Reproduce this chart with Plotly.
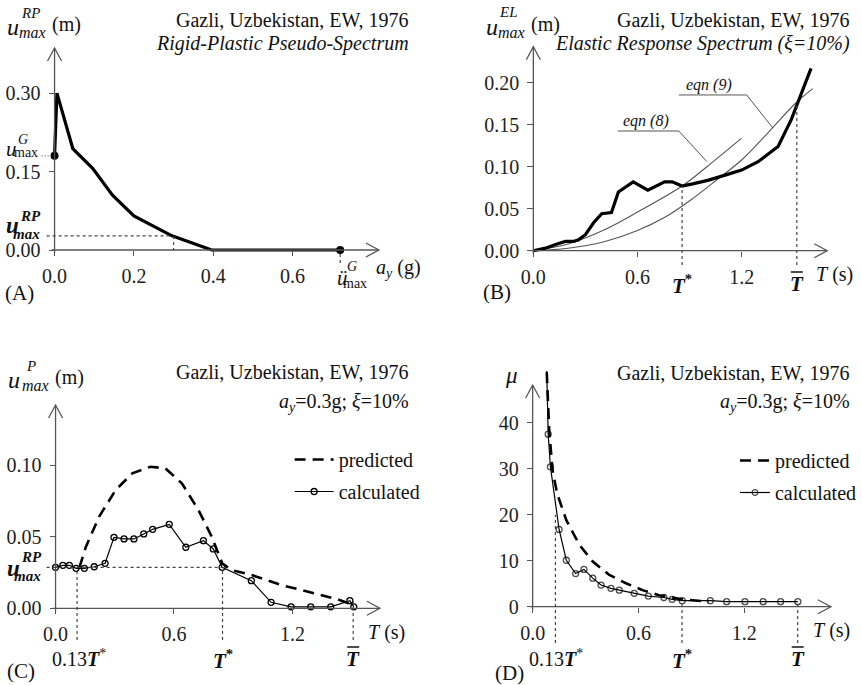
import plotly.graph_objects as go

W, H = 862, 685
FONT = "Liberation Serif, Times New Roman, serif"
INK = "#111111"
AXC = "#555555"

# ---------------- data ----------------
# (A) rigid-plastic pseudo-spectrum
A_ay = [0.0, 0.006, 0.046, 0.096, 0.146, 0.200, 0.296, 0.396, 0.720]
A_u = [0.180, 0.300, 0.194, 0.156, 0.105, 0.065, 0.027, 0.000, 0.000]
A_XTICKS = [0.0, 0.2, 0.4, 0.6]
A_YTICKS = [0.00, 0.15, 0.30]
A_AY_RP = 0.30
A_U_RP = 0.027

# (B) elastic response spectrum
B_T = [0.0, 0.07, 0.137, 0.185, 0.232, 0.26, 0.30, 0.346, 0.394, 0.45, 0.49, 0.575,
       0.66, 0.756, 0.80, 0.857, 0.918, 1.01, 1.105, 1.2, 1.295, 1.41, 1.486, 1.524, 1.60]
B_u = [0.0, 0.003, 0.008, 0.011, 0.011, 0.013, 0.019, 0.033, 0.044, 0.0455, 0.070, 0.082,
       0.072, 0.082, 0.082, 0.077, 0.0796, 0.084, 0.090, 0.096, 0.106, 0.124, 0.156, 0.177, 0.217]
B_eq8_T = [0.0, 0.2, 0.4, 0.6, 0.857, 1.0, 1.2]
B_eq8_u = [0.0, 0.008, 0.024, 0.046, 0.077, 0.100, 0.134]
B_eq9_T = [0.0, 0.2, 0.413, 0.6, 0.76, 0.918, 1.067, 1.2, 1.35, 1.518, 1.61]
B_eq9_u = [0.0, 0.003, 0.011, 0.024, 0.040, 0.062, 0.086, 0.108, 0.140, 0.177, 0.193]
B_TSTAR, B_U_TSTAR = 0.857, 0.077
B_TBAR, B_U_TBAR = 1.518, 0.177
B_EQ8_LEADER_T = [0.486, 0.838, 1.0]
B_EQ8_LEADER_U = [0.1425, 0.1425, 0.106]
B_EQ9_LEADER_T = [0.838, 1.229, 1.38]
B_EQ9_LEADER_U = [0.1854, 0.1854, 0.146]
T_TICKS = [0.0, 0.6, 1.2]
B_YTICKS = [0.00, 0.05, 0.10, 0.15, 0.20]

# (C) plastic displacement
C_calc_T = [0.0, 0.037, 0.070, 0.104, 0.146, 0.196, 0.251, 0.296, 0.347, 0.397, 0.447, 0.492,
            0.576, 0.660, 0.749, 0.799, 0.844, 0.992, 1.092, 1.193, 1.293, 1.394, 1.491, 1.511]
C_calc_u = [0.0286, 0.030, 0.030, 0.0279, 0.0279, 0.029, 0.0314, 0.0495, 0.0484, 0.0484, 0.0519, 0.0551,
            0.0586, 0.0426, 0.0472, 0.0414, 0.0286, 0.0193, 0.0042, 0.001, 0.001, 0.001, 0.0053, 0.001]
C_pred_T = [0.121, 0.154, 0.221, 0.305, 0.389, 0.481, 0.556, 0.640, 0.724, 0.791, 0.844,
            0.891, 0.992, 1.142, 1.31, 1.427, 1.494]
C_pred_u = [0.0286, 0.043, 0.064, 0.0826, 0.0942, 0.0988, 0.0977, 0.0872, 0.0686, 0.050, 0.0314,
            0.0267, 0.0233, 0.0163, 0.0105, 0.0063, 0.003]
C_U_RP = 0.0286
C_T013, C_TSTAR, C_TBAR = 0.109, 0.846, 1.508
C_YTICKS = [0.00, 0.05, 0.10]

# (D) ductility
D_calc_T = [0.079, 0.088, 0.101, 0.150, 0.191, 0.244, 0.291, 0.341, 0.388, 0.444, 0.491, 0.576,
            0.656, 0.744, 0.791, 0.848, 1.007, 1.1, 1.204, 1.307, 1.406, 1.504]
D_calc_mu = [53.0, 37.5, 30.4, 16.8, 10.1, 7.2, 8.1, 6.2, 4.7, 4.0, 3.6, 2.9,
             2.3, 2.0, 1.6, 1.3, 1.3, 1.1, 1.1, 1.1, 1.1, 1.1]
D_pred_T = [0.080, 0.0825, 0.094, 0.1125, 0.139, 0.191, 0.266, 0.341, 0.435, 0.529, 0.623,
            0.716, 0.848, 0.998]
D_pred_mu = [51.0, 47.8, 38.4, 29.7, 24.6, 18.8, 13.4, 9.8, 6.9, 5.1, 3.6, 2.5, 1.6, 1.1]
D_T013, D_TSTAR, D_TBAR = 0.129, 0.847, 1.503
D_MU_013, D_MU_TSTAR, D_MU_TBAR = 20.0, 1.3, 1.1
D_YTICKS = [0, 10, 20, 30, 40]

# ---------------- panel geometry (pixels) ----------------
PAN = [
    dict(ox=55.0, oy=250.0, sx=400.0, sy=523.0, xt=382.0, yt=48.0, top=44.0),
    dict(ox=537.7, oy=250.7, sx=175.0, sy=840.0, xt=834.0, yt=46.7, top=42.0),
    dict(ox=56.0, oy=608.3, sx=199.0, sy=1433.0, xt=383.0, yt=405.0, top=400.0),
    dict(ox=537.0, oy=606.7, sx=177.8, sy=4.6, xt=837.7, yt=385.0, top=371.0),
]
XT = [A_XTICKS, T_TICKS, T_TICKS, T_TICKS]
XFMT = ["{:.1f}"] * 4
YT = [A_YTICKS, B_YTICKS, C_YTICKS, D_YTICKS]
YFMT = ["{:.2f}", "{:.2f}", "{:.2f}", "{:d}"]


def ax_id(i):
    return "" if i == 0 else str(i + 1)


def xp(i, v):  # data x -> paper
    p = PAN[i]
    return (p["ox"] + v * p["sx"]) / W


def yp(i, v):  # data y -> paper
    p = PAN[i]
    return 1 - (p["oy"] - v * p["sy"]) / H


def P(px):
    return px / W


def Q(py):
    return 1 - py / H


fig = go.Figure()
layout = dict(width=W, height=H, margin=dict(l=0, r=0, t=0, b=0),
              paper_bgcolor="white", plot_bgcolor="rgba(0,0,0,0)",
              font=dict(family=FONT, size=19, color=INK))
shapes = []
anns = []

for i, p in enumerate(PAN):
    k = ax_id(i)
    pad = 14
    xtip = (p["xt"] - p["ox"]) / p["sx"]
    ytip = (p["oy"] - p["yt"]) / p["sy"]
    layout["xaxis" + k] = dict(
        domain=[(p["ox"] - pad) / W, (p["xt"] + 5) / W],
        range=[-pad / p["sx"], (p["xt"] + 5 - p["ox"]) / p["sx"]],
        anchor="free", position=1 - p["oy"] / H,
        showgrid=False, zeroline=False, showline=False,
        ticks="outside", ticklen=5, tickwidth=1, tickcolor=AXC,
        tickvals=XT[i], ticktext=[XFMT[i].format(v) for v in XT[i]],
        tickfont=dict(family=FONT, size=20, color="#222"), ticklabelstandoff=3)
    layout["yaxis" + k] = dict(
        domain=[1 - (p["oy"] + pad) / H, 1 - p["top"] / H],
        range=[-pad / p["sy"], (p["oy"] - p["top"]) / p["sy"]],
        anchor="free", position=p["ox"] / W,
        showgrid=False, zeroline=False, showline=False,
        ticks="outside", ticklen=6, tickwidth=1, tickcolor=AXC,
        tickvals=YT[i], ticktext=[YFMT[i].format(v) for v in YT[i]],
        tickfont=dict(family=FONT, size=20, color="#222"), ticklabelstandoff=4)
    xr, yr = "x" + k, "y" + k
    # axis lines
    shapes.append(dict(type="line", xref=xr, yref=yr, x0=-3 / p["sx"], x1=xtip, y0=0, y1=0,
                       line=dict(color=AXC, width=1.3)))
    shapes.append(dict(type="line", xref=xr, yref=yr, x0=0, x1=0, y0=-3 / p["sy"], y1=ytip,
                       line=dict(color=AXC, width=1.3)))
    # open arrow heads
    shapes.append(dict(type="path", xref=xr, yref=yr, xsizemode="pixel", ysizemode="pixel",
                       xanchor=xtip, yanchor=0, path="M-13,-7 L0,0 L-13,7",
                       line=dict(color=AXC, width=1.3)))
    shapes.append(dict(type="path", xref=xr, yref=yr, xsizemode="pixel", ysizemode="pixel",
                       xanchor=0, yanchor=ytip, path="M-7,-13 L0,0 L7,-13",
                       line=dict(color=AXC, width=1.3)))


def txt(s, px, py, size=19, xa="left"):
    return dict(text=s, x=P(px), y=Q(py), xref="paper", yref="paper", showarrow=False,
                xanchor=xa, yanchor="middle", borderpad=0,
                font=dict(family=FONT, size=size, color=INK))


def txd(s, xref, xv, py, size=19):
    return dict(text=s, x=xv, y=Q(py), xref=xref, yref="paper", showarrow=False,
                xanchor="center", yanchor="middle", font=dict(family=FONT, size=size, color=INK))


DOT = dict(color="#444", width=1.2, dash="3px,3px")


def vline(i, xv, vtop, py_bottom):
    k = ax_id(i)
    shapes.append(dict(type="line", xref="x" + k, yref="paper", x0=xv, x1=xv,
                       y0=Q(py_bottom), y1=yp(i, vtop), line=DOT))


def overline(i, xv, py):
    k = ax_id(i)
    shapes.append(dict(type="line", xref="x" + k, yref="paper", xsizemode="pixel", xanchor=xv,
                       x0=-6, x1=6, y0=Q(py), y1=Q(py), line=dict(color=INK, width=1.5)))


# ---------------- (A) ----------------
fig.add_trace(go.Scatter(x=A_ay, y=A_u, mode="lines", line=dict(color="black", width=3.2),
                         xaxis="x", yaxis="y", showlegend=False, hoverinfo="skip"))
fig.add_trace(go.Scatter(x=[A_ay[0], A_ay[-1]], y=[A_u[0], A_u[-1]], mode="markers",
                         marker=dict(color="black", size=8), cliponaxis=False,
                         xaxis="x", yaxis="y", showlegend=False))
shapes.append(dict(type="line", xref="paper", yref="y", x0=P(47), x1=xp(0, A_AY_RP),
                   y0=A_U_RP, y1=A_U_RP, line=DOT))
shapes.append(dict(type="line", xref="x", yref="y", x0=A_AY_RP, x1=A_AY_RP,
                   y0=A_U_RP, y1=0, line=DOT))
shapes.append(dict(type="line", xref="paper", yref="y", x0=P(42), x1=P(PAN[0]["ox"]),
                   y0=A_u[0], y1=A_u[0], line=dict(color="#444", width=1, dash="1px,2px")))
vline(0, A_ay[-1], 0, 263)

anns += [
    txt("<i>u</i>", 6, 27, 24), txt("<i>RP</i>", 20, 13, 15), txt("<i>max</i>", 18, 32, 16),
    txt("(m)", 51, 24, 20),
    txt("Gazli, Uzbekistan, EW, 1976", 413, 20, 20, "right"),
    txt("<i>Rigid-Plastic Pseudo-Spectrum</i>", 413, 44, 20, "right"),
    txt("<i>u</i>", 5, 149, 21), txt("<i>G</i>", 17, 140, 14), txt("max", 13, 153, 14),
    txt("<b><i>u</i></b>", 5, 226, 23), txt("<b><i>RP</i></b>", 19, 216, 15),
    txt("<b><i>max</i></b>", 12, 234, 15),
    txt("<i>ü</i>", 339, 278, 21), txt("<i>G</i>", 349, 267, 14), txt("max", 345, 283, 14),
    txt("<i>a</i><sub><i>y</i></sub> (g)", 378, 268, 20),
    txt("(A)", 4, 293, 21),
]

# ---------------- (B) ----------------
fig.add_trace(go.Scatter(x=B_eq8_T, y=B_eq8_u, mode="lines", line=dict(color="#555", width=1.1, shape="spline"),
                         xaxis="x2", yaxis="y2", showlegend=False))
fig.add_trace(go.Scatter(x=B_eq9_T, y=B_eq9_u, mode="lines", line=dict(color="#555", width=1.1, shape="spline"),
                         xaxis="x2", yaxis="y2", showlegend=False))
fig.add_trace(go.Scatter(x=B_T, y=B_u, mode="lines", line=dict(color="black", width=3.2),
                         xaxis="x2", yaxis="y2", showlegend=False))
fig.add_trace(go.Scatter(x=B_EQ8_LEADER_T, y=B_EQ8_LEADER_U, mode="lines", line=dict(color="#555", width=1),
                         xaxis="x2", yaxis="y2", showlegend=False))
fig.add_trace(go.Scatter(x=B_EQ9_LEADER_T, y=B_EQ9_LEADER_U, mode="lines", line=dict(color="#555", width=1),
                         xaxis="x2", yaxis="y2", showlegend=False))
vline(1, B_TSTAR, B_U_TSTAR, 265)
vline(1, B_TBAR, B_U_TBAR, 265)
overline(1, B_TBAR, 272)
anns += [
    txt("<i>u</i>", 489, 27, 24), txt("<i>EL</i>", 502, 12, 15), txt("<i>max</i>", 501, 32, 16),
    txt("(m)", 534, 24, 20),
    txt("Gazli, Uzbekistan, EW, 1976", 858, 20, 20, "right"),
    txt("<i>Elastic Response Spectrum (ξ=10%)</i>", 858, 44, 20, "right"),
    dict(text="<i>eqn (8)</i>", x=0.65, y=0.1545, xref="x2", yref="y2", showarrow=False,
         xanchor="center", yanchor="middle", font=dict(family=FONT, size=16, color=INK)),
    dict(text="<i>eqn (9)</i>", x=1.01, y=0.197, xref="x2", yref="y2", showarrow=False,
         xanchor="center", yanchor="middle", font=dict(family=FONT, size=16, color=INK)),
    txd("<b><i>T</i><sup>*</sup></b>", "x2", B_TSTAR, 284, 21),
    txd("<b><i>T</i></b>", "x2", B_TBAR, 284, 21),
    txt("<i>T</i> (s)", 822, 274, 20),
    txt("(B)", 486, 292, 21),
]

# ---------------- (C) ----------------
fig.add_trace(go.Scatter(x=C_pred_T, y=C_pred_u, mode="lines", name="predicted",
                         line=dict(color="black", width=2.6, dash="11px,7px"),
                         xaxis="x3", yaxis="y3", legend="legend", legendgroup="cp"))
fig.add_trace(go.Scatter(x=C_calc_T, y=C_calc_u, mode="lines+markers", name="calculated",
                         line=dict(color="black", width=1.2),
                         marker=dict(symbol="circle-open", size=6, color="black", line=dict(width=1.3)),
                         cliponaxis=False, xaxis="x3", yaxis="y3", legend="legend", legendgroup="cc"))
shapes.append(dict(type="line", xref="paper", yref="y3", x0=P(47), x1=xp(2, C_TSTAR),
                   y0=C_U_RP, y1=C_U_RP, line=DOT))
vline(2, C_T013, C_U_RP, 640)
vline(2, C_TSTAR, C_U_RP, 640)
vline(2, C_TBAR, 0.005, 640)
overline(2, C_TBAR, 647)
anns += [
    txt("<i>u</i>", 7, 380, 24), txt("<i>P</i>", 25, 366, 15), txt("<i>max</i>", 21, 385, 16),
    txt("(m)", 54, 377, 20),
    txt("Gazli, Uzbekistan, EW, 1976", 413, 372, 20, "right"),
    txt("<i>a</i><sub><i>y</i></sub>=0.3g; <i>ξ</i>=10%", 413, 402, 20, "right"),
    txt("<b><i>u</i></b>", 6, 568, 23), txt("<b><i>RP</i></b>", 20, 557, 15),
    txt("<b><i>max</i></b>", 13, 576, 15),
    txt("0.13<b><i>T</i></b><sup>*</sup>", 51, 658, 20),
    txd("<b><i>T</i><sup>*</sup></b>", "x3", C_TSTAR, 659, 21),
    txd("<b><i>T</i></b>", "x3", C_TBAR, 659, 21),
    txt("<i>T</i> (s)", 370, 632, 20),
    txt("(C)", 6, 671, 21),
]

# ---------------- (D) ----------------
fig.add_trace(go.Scatter(x=D_pred_T, y=D_pred_mu, mode="lines", name="predicted",
                         line=dict(color="black", width=2.6, dash="11px,7px"),
                         xaxis="x4", yaxis="y4", legend="legend2", legendgroup="dp"))
fig.add_trace(go.Scatter(x=D_calc_T, y=D_calc_mu, mode="lines+markers", name="calculated",
                         line=dict(color="black", width=1.2),
                         marker=dict(symbol="circle-open", size=[0] + [6] * (len(D_calc_T) - 1),
                                     color="black", line=dict(width=1.3)),
                         xaxis="x4", yaxis="y4", legend="legend2", legendgroup="dc"))
vline(3, D_T013, D_MU_013, 643)
vline(3, D_TSTAR, D_MU_TSTAR, 643)
vline(3, D_TBAR, D_MU_TBAR, 643)
overline(3, D_TBAR, 647)
anns += [
    txt("<i>μ</i>", 508, 375, 23),
    txt("Gazli, Uzbekistan, EW, 1976", 858, 373, 20, "right"),
    txt("<i>a</i><sub><i>y</i></sub>=0.3g; <i>ξ</i>=10%", 858, 402, 20, "right"),
    txt("0.13<b><i>T</i></b><sup>*</sup>", 532, 658, 20),
    txd("<b><i>T</i><sup>*</sup></b>", "x4", D_TSTAR, 659, 21),
    txd("<b><i>T</i></b>", "x4", D_TBAR, 659, 21),
    txt("<i>T</i> (s)", 819, 630, 20),
    txt("(D)", 498, 673, 21),
]

leg_common = dict(xanchor="left", yanchor="top", bgcolor="rgba(0,0,0,0)", borderwidth=0,
                  font=dict(family=FONT, size=20, color=INK), tracegroupgap=3,
                  traceorder="grouped")
layout["legend"] = dict(x=P(292), y=Q(440), itemwidth=39, **leg_common)
layout["legend2"] = dict(x=P(741), y=Q(441), itemwidth=30, **leg_common)
layout["shapes"] = shapes
layout["annotations"] = anns
fig.update_layout(**layout)
fig.write_html("out.html", config={"displayModeBar": False},
               post_script="document.body.style.margin='0px';document.body.style.padding='0px';")
